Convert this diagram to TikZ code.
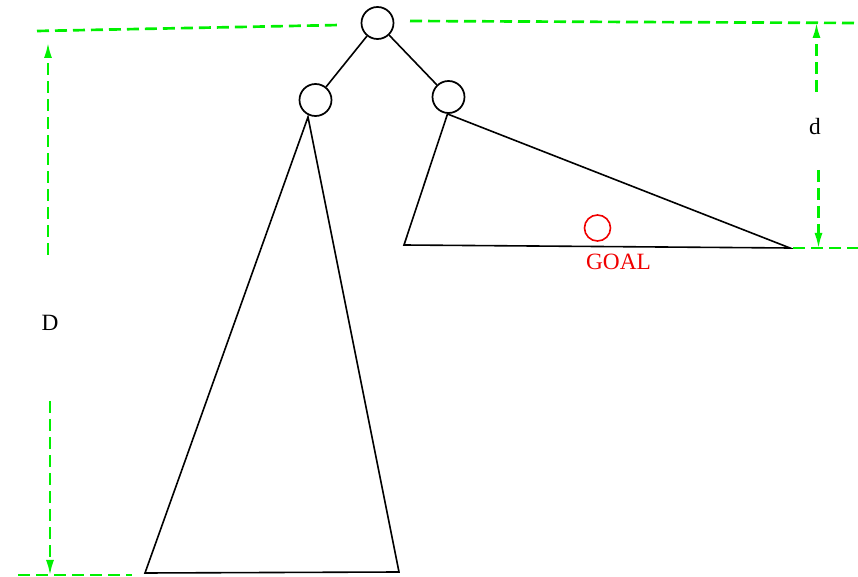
\documentclass[tikz,border=0pt]{standalone}
\usepackage{fontspec}
\setmainfont{Liberation Serif}
\usetikzlibrary{arrows.meta}
\definecolor{dimgreen}{RGB}{0,240,0}
\definecolor{goalred}{RGB}{240,0,0}
\tikzset{
  treenode/.style={circle,draw=black,line width=1.3pt,minimum size=24pt,inner sep=0pt},
  edge/.style={draw=black,line width=1.2pt},
  tri/.style={draw=black,line width=1.2pt,line join=miter},
  dimline/.style={draw=dimgreen,line width=2pt,dash pattern=on 9pt off 4.5pt},
  dimarrow/.style={dimline,-{Latex[length=12pt,width=6pt,fill=dimgreen]}},
  lbl/.style={font=\fontsize{17.5}{20}\selectfont,inner sep=0pt}
}
\begin{document}
\begin{tikzpicture}[x=0.75pt,y=-0.75pt]
\useasboundingbox (0,0) rectangle (858,577);
% tree nodes
\node[treenode] (root) at (377.5,23) {};
\node[treenode] (lc) at (315.5,100) {};
\node[treenode] (rc) at (448.5,97) {};
\draw[edge] (root) -- (lc);
\draw[edge] (root) -- (rc);
% subtrees
\coordinate (la) at (308,117);
\coordinate (lbl1) at (145,573);
\coordinate (lbr) at (399,572);
\draw[tri] (la) -- (lbl1) -- (lbr) -- cycle;
\coordinate (ra) at (447.5,114);
\coordinate (rbl) at (404,245);
\coordinate (rbr) at (790,248);
\draw[tri] (ra) -- (rbl) -- (rbr) -- cycle;
% goal
\node[circle,draw=goalred,line width=1.2pt,minimum size=19.5pt,inner sep=0pt] (goal) at (597.5,228) {};
\node[lbl,text=goalred,anchor=base] (goaltxt) at (618.5,270) {GOAL};
% dimension lines
\coordinate (tl1) at (37,31);
\coordinate (tl2) at (340,25);
\draw[dimline] (tl1) -- (tl2);
\coordinate (tr1) at (410,21);
\coordinate (tr2) at (858,23);
\draw[dimline] (tr1) -- (tr2);
\coordinate (bl1) at (18,575);
\coordinate (bl2) at (132,575);
\draw[dimline] (bl1) -- (bl2);
\coordinate (br1) at (793,248);
\coordinate (br2) at (858,248);
\draw[dimline] (br1) -- (br2);
% D
\node[lbl,anchor=base] (Dlbl) at (50,331) {D};
\coordinate (Du1) at (48,255);
\coordinate (Du2) at (48,42);
\draw[dimarrow] (Du1) -- (Du2);
\coordinate (Dd1) at (50,401);
\coordinate (Dd2) at (50,576);
\draw[dimarrow] (Dd1) -- (Dd2);
% d
\node[lbl,anchor=base] (dlbl) at (815,135) {d};
\coordinate (du1) at (816.5,92);
\coordinate (du2) at (816.5,22);
\draw[dimarrow] (du1) -- (du2);
\coordinate (dd1) at (818.5,170);
\coordinate (dd2) at (818.5,249);
\draw[dimarrow] (dd1) -- (dd2);
\end{tikzpicture}
\end{document}
